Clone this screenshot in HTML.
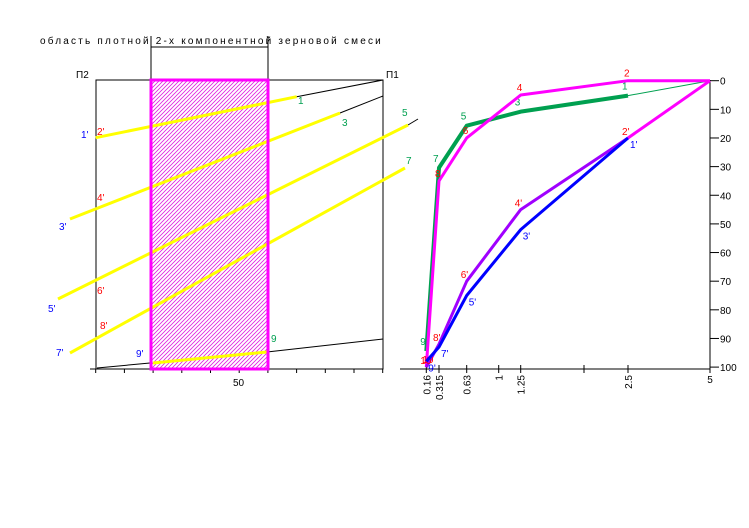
<!DOCTYPE html>
<html><head><meta charset="utf-8"><style>
body{margin:0;background:#fff;width:749px;height:528px;overflow:hidden}
svg{display:block}
text{font-family:"Liberation Sans",sans-serif;font-size:10px}
</style></head><body>
<svg id="c" width="749" height="528">
<defs><pattern id="h" width="4" height="4" patternUnits="userSpaceOnUse"><path d="M0,4 L4,0 M-1,1 L1,-1 M3,5 L5,3" stroke="#e020e0" stroke-width="0.8"/></pattern></defs>
<text x="40" y="44" style="font-size:10px;letter-spacing:2.2px">область плотной 2-х компонентной зерновой смеси</text>
<g stroke="#000" fill="none" stroke-width="1">
<line x1="151" y1="47" x2="268" y2="47"/><line x1="151" y1="36" x2="151" y2="80"/><line x1="268" y1="36" x2="268" y2="80"/>
<rect x="96" y="80" width="287" height="289"/>
<line x1="90" y1="369" x2="383" y2="369"/>
<line x1="296.7" y1="96.7" x2="383" y2="80"/><line x1="340" y1="113" x2="383" y2="96"/><line x1="408" y1="125" x2="418" y2="119"/>
<line x1="267" y1="352" x2="383" y2="339"/><line x1="97" y1="368" x2="150" y2="363"/>
</g>
<g id="ticksL" stroke="#000"></g>
<rect x="151" y="80" width="117" height="289" fill="url(#h)"/>
<g stroke="#ffff00" stroke-width="3">
<line x1="95.7" y1="137.7" x2="296.7" y2="96.7"/><line x1="70" y1="219" x2="340" y2="113"/><line x1="58" y1="299" x2="408" y2="125"/><line x1="70" y1="353" x2="405" y2="168"/><line x1="153" y1="363" x2="267" y2="352"/>
</g>
<rect x="151" y="80" width="117" height="289" fill="none" stroke="#ff00ff" stroke-width="3"/>
<g>
<text x="76" y="78">П2</text><text x="386" y="78">П1</text><text x="233" y="386">50</text>
<text x="298" y="104" fill="#00a050">1</text><text x="342" y="126" fill="#00a050">3</text><text x="402" y="116" fill="#00a050">5</text><text x="406" y="164" fill="#00a050">7</text><text x="271" y="342" fill="#00a050">9</text>
<text x="81" y="138" fill="#0000ff">1'</text><text x="59" y="230" fill="#0000ff">3'</text><text x="48" y="312" fill="#0000ff">5'</text><text x="56" y="356" fill="#0000ff">7'</text><text x="136" y="357" fill="#0000ff">9'</text>
<text x="97" y="135" fill="#ff0000">2'</text><text x="97" y="201" fill="#ff0000">4'</text><text x="97" y="294" fill="#ff0000">6'</text><text x="100" y="329" fill="#ff0000">8'</text>
</g>
<g id="chart"></g>
</svg>
<script>
const sieves=[0.16,0.315,0.63,1,1.25,2.5,5];
const yTicks=[0,10,20,30,40,50,60,70,80,90,100];
const greenX=[2.5,1.25,0.63,0.315,0.16];
const greenY=[5.2,10.8,15.7,30.4,94.4];
const greenLab=['1','3','5','7','9'];
const magX=[5,2.5,1.25,0.63,0.315,0.16];
const magY=[0,0,5,20,35,100];
const magLab=['','2','4','6','8','10'];
const purX=[2.5,1.25,0.63,0.315,0.16];
const purY=[20,45,70,92,100];
const purLab=["2'","4'","6'","8'","10'"];
const bluX=[2.5,1.25,0.63,0.315,0.16];
const bluY=[20,52,75,93,98];
const bluLab=["1'","3'","5'","7'","9'"];
const xs=[0.16,0.315,0.63,1,1.25,2.5,5],xp=[426.3,439,466.7,498.7,520.7,628,710];
function X(v){for(let i=0;i<xs.length-1;i++){if(v<=xs[i+1])return xp[i]+(v-xs[i])/(xs[i+1]-xs[i])*(xp[i+1]-xp[i]);}return xp[xp.length-1];}
function Y(v){return 80.7+v*2.864;}
const NS='http://www.w3.org/2000/svg',g=document.getElementById('chart');
function el(t,a,p){const e=document.createElementNS(NS,t);for(const k in a)e.setAttribute(k,a[k]);(p||g).appendChild(e);return e;}
let e=el('line',{x1:400,y1:369,x2:710,y2:369,stroke:'#000'});


e=el('line',{x1:710,y1:80,x2:710,y2:369,stroke:'#000'});


yTicks.forEach(v=>{el('line',{x1:710,y1:Y(v),x2:719,y2:Y(v),stroke:'#000'});
 const t=el('text',{x:720,y:Y(v)+4});t.textContent=v;
 
 });
sieves.forEach(v=>{el('line',{x1:X(v),y1:365,x2:X(v),y2:373,stroke:'#000'});
 const t=el('text',{x:0,y:0,transform:`translate(${X(v)+4},375) rotate(-90)`,'text-anchor':v==5?'middle':'end'});t.textContent=v;
 if(v==5)t.setAttribute('transform',`translate(${X(v)},383)`);
 
 });
el('line',{x1:584,y1:365,x2:584,y2:373,stroke:'#000'});
const tl=document.getElementById('ticksL');
for(let i=0;i<11;i++)el('line',{x1:95.7+i*28.7,y1:369,x2:95.7+i*28.7,y2:373},tl);
function series(xa,ya,col,w,name,labs,lc,dx,dy){
 const p=el('polyline',{points:xa.map((x,i)=>X(x)+','+Y(ya[i])).join(' '),fill:'none',stroke:col,'stroke-width':w,'stroke-linejoin':'round'});
 
 
 xa.forEach((x,i)=>{if(!labs[i])return;const t=el('text',{x:X(x)+dx,y:Y(ya[i])+dy,fill:lc});t.textContent=labs[i];
 
 });
}
el('line',{x1:X(greenX[0]),y1:Y(greenY[0]),x2:X(5),y2:Y(0),stroke:'#00a050','stroke-width':1});
el('line',{x1:X(5),y1:Y(0),x2:X(purX[0]),y2:Y(purY[0]),stroke:'#ff00ff','stroke-width':3});
series(greenX,greenY,'#00a050',4,'series-green',greenLab,'#00a050',-6,-6);
series(magX,magY,'#ff00ff',3,'series-magenta',magLab,'#ff0000',-4,-4);
series(purX,purY,'#a000ff',3,'series-purple',purLab,'#ff0000',-6,-3);
series(bluX,bluY,'#0000ff',3,'series-blue',bluLab,'#0000ff',2,10);
</script>
</body></html>
